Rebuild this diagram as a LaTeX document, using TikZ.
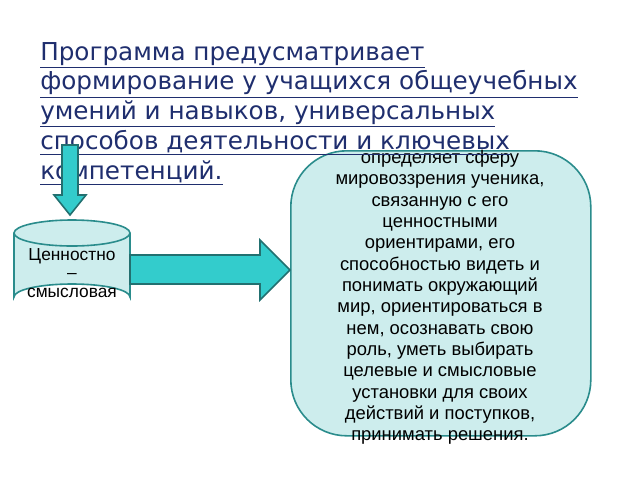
\documentclass[tikz,border=0pt]{standalone}
\usepackage{fontspec}
\setmainfont{DejaVu Sans}
\newfontfamily\arialf{Liberation Sans}
\definecolor{tb}{HTML}{1F2E6E}
\definecolor{tl}{HTML}{33CCCC}
\definecolor{td}{HTML}{2A8C8C}
\definecolor{lf}{HTML}{CDEDED}
\begin{document}
\begin{tikzpicture}[x=0.75pt,y=-0.75pt,
  shp/.style={draw=td,line width=1.2pt},
  ar/.style={shp,fill=tl,draw=td!80!black}]
\useasboundingbox (0,0) rectangle (640,480);
\fill[white] (0,0) rectangle (640,480);
% box
\node[shp,fill=lf,rounded corners=42pt,minimum width=300*0.75pt,minimum height=285*0.75pt,anchor=north west] (box) at (290,150) {};
\node[align=center,font=\arialf\fontsize{13.8pt}{16pt}\selectfont,anchor=north,inner sep=0] (txt) at (440,150) {определяет сферу\\ мировоззрения ученика,\\ связанную с его\\ ценностными\\ ориентирами, его\\ способностью видеть и\\ понимать окружающий\\ мир, ориентироваться в\\ нем, осознавать свою\\ роль, уметь выбирать\\ целевые и смысловые\\ установки для своих\\ действий и поступков,\\ принимать решения.};
% title
\node[anchor=north west,align=left,text=tb,font=\fontsize{18.5pt}{22.3pt}\selectfont,inner sep=0] (title) at (40,42) {\underline{Программа предусматривает}\\ \underline{формирование у учащихся общеучебных}\\ \underline{умений и навыков, универсальных}\\ \underline{способов деятельности и ключевых}\\ \underline{компетенций.}};
% down arrow
\draw[ar] (62,145) -- (78,145) -- (78,195) -- (86,195) -- (70,215) -- (54,195) -- (62,195) -- cycle;
% cylinder
\draw[shp,fill=lf] (14,233) -- (14,297) arc[start angle=180,end angle=360,x radius=58,y radius=13] -- (130,233);
\draw[shp,fill=lf] (72,233) ellipse[x radius=58,y radius=13];
\node[align=center,font=\arialf\fontsize{13pt}{14pt}\selectfont] (cyl) at (72,273) {Ценностно\\–\\смысловая};
% right arrow
\draw[ar] (130,255) -- (260,255) -- (260,240) -- (290,270) -- (260,300) -- (260,284) -- (130,284) -- cycle;
\end{tikzpicture}
\end{document}
